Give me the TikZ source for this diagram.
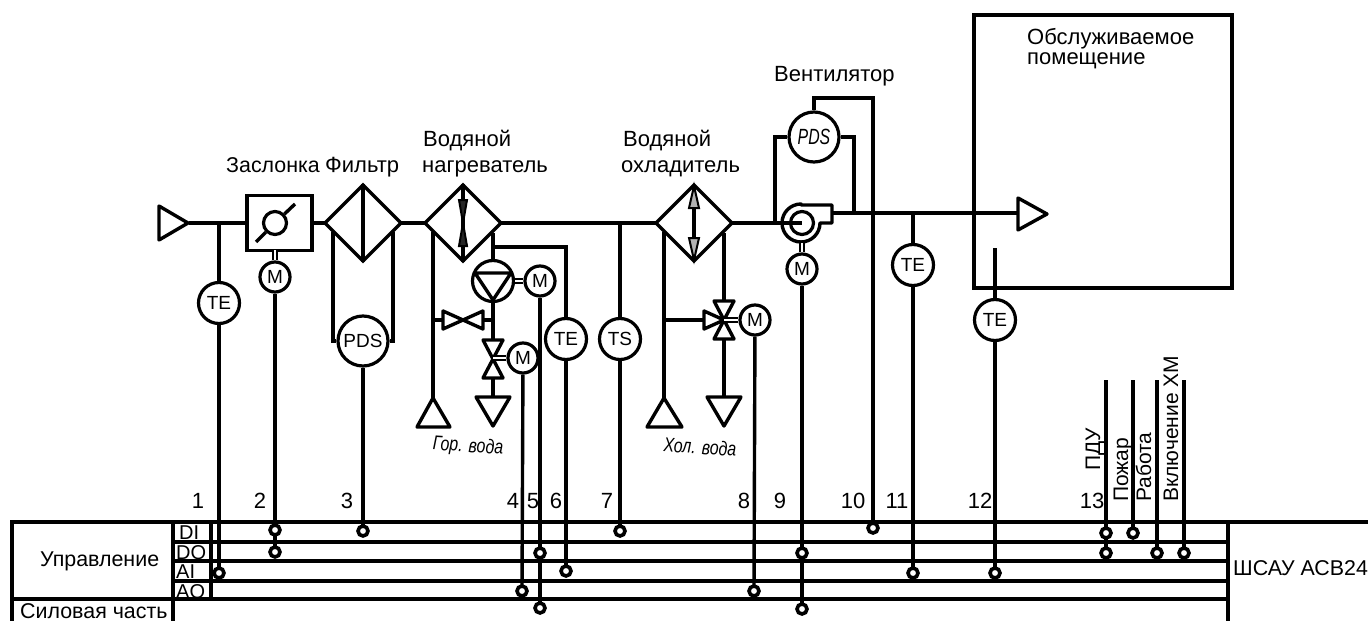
\documentclass[tikz,border=0pt]{standalone}
\usepackage{fontspec}
\usetikzlibrary{shapes.geometric}
\setmainfont{Liberation Sans}
\tikzset{
  ln/.style={line width=3.4pt,line join=miter},
  inst/.style={circle,draw,line width=3.2pt,inner sep=0pt,minimum size=41pt,font=\fontsize{19}{19}\selectfont},
  mot/.style={circle,draw,line width=3.2pt,inner sep=0pt,minimum size=30pt,font=\fontsize{19}{19}\selectfont},
  pds/.style={circle,draw,line width=3.2pt,inner sep=0pt,minimum size=50pt,font=\fontsize{19}{19}\selectfont},
  conn/.style={circle,draw,fill=white,line width=3.6pt,inner sep=0pt,minimum size=10pt},
  lbl/.style={inner sep=0pt,anchor=base west,font=\fontsize{22}{22}\selectfont},
  sml/.style={inner sep=0pt,anchor=base west,font=\fontsize{21.4}{21.4}\selectfont},
  wat/.style={inner sep=0pt,font=\fontsize{20}{20}\itshape\selectfont,xscale=.8,rotate=-3},
  rot/.style={inner sep=0pt,rotate=90,anchor=base west,font=\fontsize{21}{21}\selectfont},
  num/.style={inner sep=0pt,anchor=base,font=\fontsize{22}{22}\selectfont},
  tag/.style={inner sep=0pt,anchor=base west,font=\fontsize{20}{20}\selectfont},
  coil/.style={diamond,draw,line width=3.2pt,minimum size=76pt,inner sep=0pt,outer sep=0pt,aspect=1},
  shaft/.style={double,double distance=2pt,line width=2.2pt},
}
\begin{document}
\begin{tikzpicture}[x=1pt,y=-1pt]
\useasboundingbox (0,0) rectangle (1368,621);
% control table
\draw[ln] (12,621) -- (12,522) -- (1368,522);
\draw[ln] (173,621) -- (173,522);
\draw[ln] (211,522) -- (211,599);
\draw[ln] (1228,522) -- (1228,621);
\draw[ln] (173,542) -- (1228,542);
\draw[ln] (173,561) -- (1228,561);
\draw[ln] (173,581) -- (1228,581);
\draw[ln] (12,599) -- (1228,599);
\node[tag] (di) at (179,539) {DI};
\node[tag] (do) at (176,559) {DO};
\node[tag] (ai) at (176,578.5) {AI};
\node[tag] (ao) at (176,598) {AO};
\node[sml] (upr) at (40,566) {Управление};
\node[sml] (sil) at (20,618.5) {Силовая часть};
\node[sml] (shsau) at (1233,575) {ШСАУ АСВ24};
% numbers
\foreach \n/\x in {1/198,2/260,3/347,4/513,5/533,6/556,7/607,8/744,9/780,10/853,11/897,12/980,13/1092}
  \node[num] (n\n) at (\x,508) {\n};
% connection points
\foreach \nm/\x/\y in {a1/219/573,b2/275/530,b2o/275/552,c3/363/531,d4/522/591,d5/540/553,d5p/540/608,d6/566/571,d7/620/531,d8/754/591,d9/802/553,d9p/802/609,d10/873/528,d11/913/573,d12/995/573,e1/1106/533,e2/1106/553,e3/1133/533,e4/1157/553,e5/1184/553}
  \coordinate (\nm) at (\x,\y);
% air duct
\node[inner sep=0pt] (intake) at (188,223) {};
\draw[ln,line join=round] (159,206) -- (188,223) -- (159,240) -- cycle;
\node[draw,line width=3.2pt,minimum width=65pt,minimum height=55pt,inner sep=0pt] (damper) at (279.5,223) {};
\draw[ln] (intake) -- (damper);
\node[circle,draw,line width=3.2pt,minimum size=23pt,inner sep=0pt] (dc) at (275,223) {};
\draw[ln] (256,242) -- (dc) (dc) -- (295,204);
\node[coil] (filter) at (363,223) {};
\draw[ln] (363,184) -- (363,262);
\node[coil] (heater) at (463,223) {};
\node[coil] (cooler) at (694,223) {};
\draw[ln] (damper) -- (filter);
\draw[ln] (filter) -- (heater);
\draw[ln] (heater) -- (cooler);
% heater inner
\draw[ln] (463,184) -- (463,262);
\draw[line width=2pt,fill=black!85] (459,200) -- (467,200) -- (463,223) -- cycle;
\draw[line width=2pt,fill=black!85] (459,246) -- (467,246) -- (463,223) -- cycle;
% cooler inner
\draw[ln] (694,186) -- (694,260);
\draw[line width=2pt,fill=black!30] (694,186) -- (689,208) -- (699,208) -- cycle;
\draw[line width=2pt,fill=black!30] (694,260) -- (689,238) -- (699,238) -- cycle;
% TE1
\node[inst] (te1) at (219,303) {TE};
\draw[ln] (219,223) -- (te1);
\draw[ln] (te1) -- (a1);
\node[conn] at (a1) {};
% damper motor
\node[mot] (m2) at (275,277) {M};
\draw[shaft] (275,250) -- (m2);
\draw[ln] (m2) -- (b2);
\draw[ln] (b2) -- (b2o);
\node[conn] at (b2) {};
\node[conn] at (b2o) {};
% filter PDS
\node[pds] (pds1) at (363,341) {PDS};
\draw[ln] (333,232) |- (pds1);
\draw[ln] (393,232) |- (pds1);
\draw[ln] (pds1) -- (c3);
\node[conn] at (c3) {};
% hot water
\draw[ln,line join=round] (433,398) -- (417,427) -- (450,427) -- cycle;
\draw[ln] (433,232) -- (433,398);
\node[circle,draw,line width=3.2pt,minimum size=41pt,inner sep=0pt] (pump) at (493,281) {};
\draw[ln] (493,233) -- (pump);
\draw[ln,line join=round] (475,273) -- (511,273) -- (493,300) -- cycle;
\node[mot] (m5) at (540,281) {M};
\draw[shaft] (pump) -- (m5);
\node[inst] (te6) at (566,339) {TE};
\draw[ln] (493,247) -- (566,247) -- (te6);
\draw[ln] (te6) -- (d6);
\node[inst] (ts7) at (620,339) {TS};
\draw[ln] (620,223) -- (ts7);
\draw[ln] (ts7) -- (d7);
\draw[ln] (m5) -- (d5);
\draw[ln] (d5) -- (d5p);
\node[conn] at (d5) {};
\node[conn] at (d5p) {};
\node[conn] at (d6) {};
\node[conn] at (d7) {};
% bypass valve
\draw[ln,line join=round] (443,311) -- (443,329) -- (483,311) -- (483,329) -- cycle;
\draw[ln] (433,320) -- (443,320);
\draw[ln] (483,320) -- (493,320);
% mixing valve
\draw[ln] (pump) -- (493,340);
\draw[ln,line join=round] (483,340) -- (503,340) -- (483,378) -- (503,378) -- cycle;
\node[mot] (m4) at (523,358) {M};
\draw[shaft] (493,358) -- (m4);
\draw[ln] (m4) -- (d4);
\node[conn] at (d4) {};
\draw[ln] (493,378) -- (493,397);
\draw[ln,line join=round] (476,397) -- (510,397) -- (493,426) -- cycle;
\node[wat] (hot) at (468,447) {Гор. вода};
% cold water
\draw[ln,line join=round] (664,398) -- (647,427) -- (682,427) -- cycle;
\draw[ln] (664,232) -- (664,398);
\draw[ln] (664,320) -- (704,320);
\draw[ln,line join=round] (704,311) -- (704,329) -- (724,320) -- cycle;
\draw[ln,line join=round] (714,301) -- (734,301) -- (714,339) -- (734,339) -- cycle;
\draw[ln] (724,233) -- (724,301);
\draw[ln] (724,339) -- (724,397);
\draw[ln,line join=round] (707,397) -- (741,397) -- (724,426) -- cycle;
\node[mot] (m8) at (755,320) {M};
\draw[shaft] (724,320) -- (m8);
\draw[ln] (m8) -- (d8);
\node[conn] at (d8) {};
\node[wat] (cold) at (700,447) {Хол. вода};
% fan
\node[circle,draw,line width=3.2pt,minimum size=23pt,inner sep=0pt] (fan) at (802,223) {};
\draw[ln] (cooler) -- (802,223);
\draw[ln,line join=round] (801,205) -- (832,205) -- (832,223) -- (820,223) arc[start angle=0,end angle=270,radius=19] -- cycle;
\node[mot] (m9) at (802,269) {M};
\draw[shaft] (802,243) -- (m9);
\draw[ln] (m9) -- (d9);
\draw[ln] (d9) -- (d9p);
\node[conn] at (d9) {};
\node[conn] at (d9p) {};
% outlet
\coordinate (outlet) at (1018,213);
\draw[line width=4pt] (832,213) -- (outlet);
\draw[ln,line join=round] (1018,198) -- (1047,214) -- (1018,230) -- cycle;
% fan PDS
\node[pds,font=\fontsize{22}{22}\itshape\selectfont] (pds2) at (814,137) {\scalebox{.72}[1]{PDS}};
\draw[ln] (pds2) -- (775,137) -- (775,223);
\draw[ln] (pds2) -- (854,137) -- (854,213);
\draw[ln] (pds2) -- (814,98) -- (873,98) -- (d10);
\node[conn] at (d10) {};
% TE 11, 12
\node[inst] (te11) at (913,265) {TE};
\draw[ln] (913,213) -- (te11);
\draw[ln] (te11) -- (d11);
\node[conn] at (d11) {};
\node[draw,line width=3.2pt,minimum width=258pt,minimum height=273pt,inner sep=0pt] (room) at (1103,151.5) {};
\node[inst] (te12) at (995,320) {TE};
\draw[ln] (995,248) -- (te12);
\draw[ln] (te12) -- (d12);
\node[conn] at (d12) {};
% external signals
\coordinate (s1) at (1106,380);
\coordinate (s2) at (1133,380);
\coordinate (s3) at (1157,380);
\coordinate (s4) at (1184,380);
\draw[ln] (s1) -- (e2);
\draw[ln] (s2) -- (e3);
\draw[ln] (s3) -- (e4);
\draw[ln] (s4) -- (e5);
\node[conn] at (e1) {};
\node[conn] at (e2) {};
\node[conn] at (e3) {};
\node[conn] at (e4) {};
\node[conn] at (e5) {};
\node[rot] (t1) at (1100,471) {ПДУ};
\node[rot] (t2) at (1128,502) {Пожар};
\node[rot] (t3) at (1151,502) {Работа};
\node[rot] (t4) at (1178,502) {Включение ХМ};
% labels
\node[sml] (l1) at (226,172) {Заслонка};
\node[lbl] (l2) at (325,172) {Фильтр};
\node[lbl] (l3) at (423,146) {Водяной};
\node[lbl] (l4) at (422,172) {нагреватель};
\node[lbl] (l5) at (623,146) {Водяной};
\node[lbl] (l6) at (621,172) {охладитель};
\node[lbl] (l7) at (774,81) {Вентилятор};
\node[lbl] (l8) at (1027,44) {Обслуживаемое};
\node[lbl] (l9) at (1027,64) {помещение};
\end{tikzpicture}
\end{document}
